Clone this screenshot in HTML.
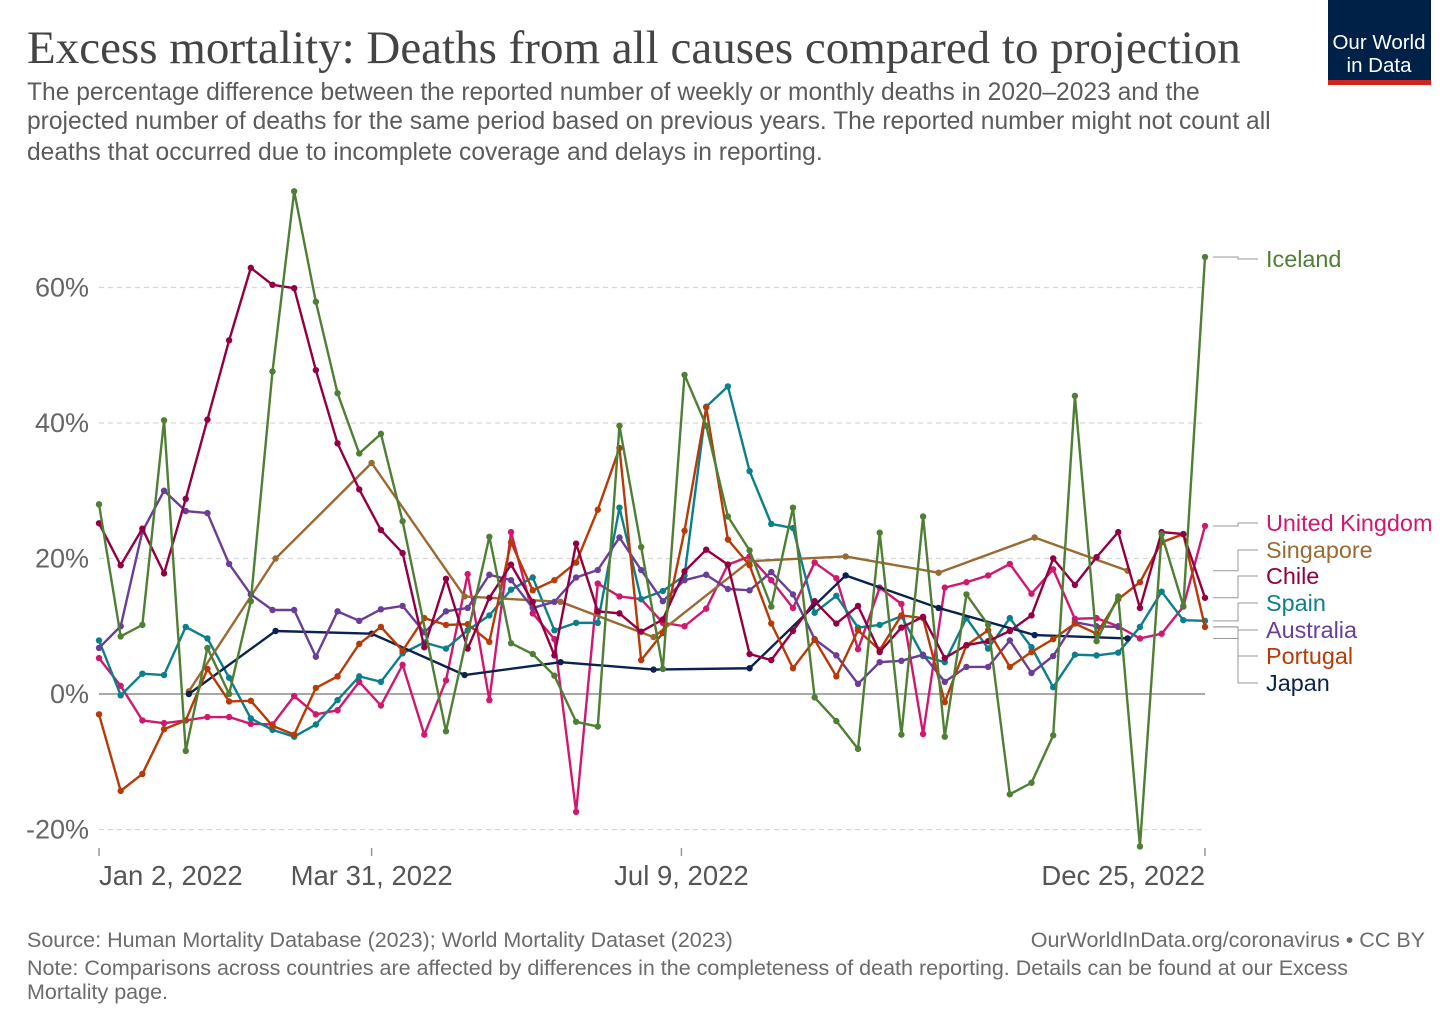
<!DOCTYPE html>
<html><head><meta charset="utf-8">
<style>
body{margin:0;background:#fff;width:1456px;height:1028px;overflow:hidden;font-family:"Liberation Sans",sans-serif;}
svg{position:absolute;left:0;top:0}
</style></head>
<body>
<svg id="chart" width="1456" height="1028">
<text x="27" y="63" font-family="Liberation Serif, serif" font-size="47" fill="#444">Excess mortality: Deaths from all causes compared to projection</text>
<g font-size="24.6" fill="#5b5b5b">
<text x="27" y="100">The percentage difference between the reported number of weekly or monthly deaths in 2020–2023 and the</text>
<text x="27" y="129">projected number of deaths for the same period based on previous years. The reported number might not count all</text>
<text x="27" y="160">deaths that occurred due to incomplete coverage and delays in reporting.</text>
</g>
<g>
<rect x="1328" y="0" width="103" height="80" fill="#002147"/>
<rect x="1328" y="80" width="103" height="5" fill="#ce261e"/>
<text x="1379" y="49" text-anchor="middle" font-size="20.5" fill="#fff">Our World</text>
<text x="1379" y="72" text-anchor="middle" font-size="20.5" fill="#fff">in Data</text>
</g>
<g id="grid"></g>
<g id="series"></g>
<g id="labels"></g>
<g font-size="21.5" fill="#6b6b6b">
<text x="27" y="947">Source: Human Mortality Database (2023); World Mortality Dataset (2023)</text>
<text x="1425" y="947" text-anchor="end">OurWorldInData.org/coronavirus • CC BY</text>
<text x="27" y="975">Note: Comparisons across countries are affected by differences in the completeness of death reporting. Details can be found at our Excess</text>
<text x="27" y="999">Mortality page.</text>
</g>
</svg>
<script>
const yTicks=[-20,0,20,40,60];
const xTickDays=[0,88,188,357];
const xTickLabels=["Jan 2, 2022","Mar 31, 2022","Jul 9, 2022","Dec 25, 2022"];
const monthDays=[29,57,88,118,149,179,210,241,271,302,332];
const iceland=[28,8.5,10.2,40.4,-8.4,6.8,0,13.7,47.6,74.2,57.9,44.4,35.5,38.4,25.5,null,-5.5,null,23.2,7.5,5.9,2.7,-4.1,-4.8,39.6,21.7,3.7,47.1,39.6,26.2,21.2,12.9,27.5,-0.5,-4,-8.1,23.8,-6,26.2,-6.3,14.7,10.2,-14.8,-13.1,-6.1,44,7.8,14.4,-22.5,23.6,13,64.5];
const chile=[25.2,19,24.4,17.8,28.8,40.5,52.2,62.9,60.4,59.9,47.8,37,30.2,24.2,20.8,6.9,17,6.7,14.2,19.1,13.6,5.7,22.2,12.2,11.9,9.2,11,18.1,21.3,19.1,5.9,5,9.3,13.7,10.4,13,6.2,9.8,11.4,5.3,7.2,7.8,9.3,11.6,20,16.1,20.2,23.9,12.7,23.9,23.6,14.2];
const uk=[5.3,1.2,-3.9,-4.3,-3.9,-3.4,-3.4,-4.4,-4.5,-0.3,-3,-2.4,1.8,-1.7,4.3,-6,2,17.7,-0.9,23.9,11.9,8.1,-17.4,16.3,14.4,14,10.5,10,12.6,19.1,20.3,16.8,12.7,19.4,17.1,6.6,15.7,13.3,-5.9,15.7,16.5,17.5,19.2,14.8,18.4,11.1,11.2,10,8.2,8.9,12.9,24.8];
const spain=[7.9,-0.2,3,2.8,9.9,8.2,2.4,-3.6,-5.3,-6.3,-4.5,-0.9,2.6,1.8,6,7.6,6.7,9.4,11.6,15.4,17.2,9.4,10.5,10.5,27.5,14,15.2,17.5,42.4,45.4,32.9,25.1,24.5,12,14.5,9.8,10.2,11.5,5.6,4.7,11.2,6.7,11.2,6.9,1,5.8,5.7,6.1,9.9,15.1,10.9,10.8];
const australia=[6.8,10,24,30,27,26.7,19.2,14.7,12.4,12.4,5.5,12.2,10.8,12.5,13,9.1,12.2,12.7,17.6,16.8,12.7,13.6,17.2,18.3,23.1,18.3,13.7,16.8,17.6,15.5,15.3,18,14.7,8.1,5.7,1.5,4.7,4.9,5.8,1.8,4,4,7.9,3.1,5.6,10.6,10,9.9,null,null,null,null];
const portugal=[-3,-14.3,-11.8,-5.2,-3.9,3.7,-1.1,-1,-4.7,-6,0.9,2.6,7.4,9.9,6.4,11.2,10.2,10.3,7.7,22.4,15.3,16.8,19.4,27.2,36.3,5,9,24.1,42.3,22.8,19,10.4,3.8,8,2.6,9.4,6.5,11.6,11.2,-1.2,7.2,9.4,4,6.2,8.1,10.4,8.9,14,16.5,22.4,23.6,9.9];
const singapore=[0.4,20,34.1,14.4,13.6,8.4,19.6,20.3,17.9,23.1,18.2];
const japan=[0,9.3,8.9,2.8,4.7,3.6,3.8,17.5,12.7,8.7,8.2];
const labelY=[259,523,550,576,603,630,656,683];

const NS="http://www.w3.org/2000/svg";
const X=d=>99+d*(1106/357);
const Y=v=>694-v*6.775;
function mk(tag,attrs,parent){const e=document.createElementNS(NS,tag);for(const k in attrs)e.setAttribute(k,attrs[k]);parent.appendChild(e);return e;}
const grid=document.getElementById('grid');
yTicks.forEach(t=>{
  const l=mk('line',{x1:99,x2:1205,y1:Y(t),y2:Y(t),stroke:t===0?'#8c8c8c':'#d6d6d6','stroke-width':t===0?1.5:1.2,'stroke-dasharray':t===0?'':'5,4'},grid);
  
  
  const tx=mk('text',{x:89,y:Y(t)+9,'text-anchor':'end','font-size':27,fill:'#666'},grid);
  tx.textContent=t+'%';
  
  
});
xTickDays.forEach((d,i)=>{
  const l=mk('line',{x1:X(d),x2:X(d),y1:848,y2:856,stroke:'#999','stroke-width':1.5},grid);
  
  
  const anchor=i===0?'start':(i===3?'end':'middle');
  const tx=mk('text',{x:X(d),y:885,'text-anchor':anchor,'font-size':27.5,fill:'#555'},grid);
  tx.textContent=xTickLabels[i];
  
  
});
const weekly=i=>i*7;
const series=[
 {name:'Iceland',vals:iceland,days:iceland.map((_,i)=>weekly(i)),color:'#4f7f34'},
 {name:'United Kingdom',vals:uk,days:uk.map((_,i)=>weekly(i)),color:'#d0186e'},
 {name:'Singapore',vals:singapore,days:monthDays,color:'#9a6a33'},
 {name:'Chile',vals:chile,days:chile.map((_,i)=>weekly(i)),color:'#930042'},
 {name:'Spain',vals:spain,days:spain.map((_,i)=>weekly(i)),color:'#0b7f8c'},
 {name:'Australia',vals:australia,days:australia.map((_,i)=>weekly(i)),color:'#6a3d96'},
 {name:'Portugal',vals:portugal,days:portugal.map((_,i)=>weekly(i)),color:'#b83a06'},
 {name:'Japan',vals:japan,days:monthDays,color:'#0a2250'}
];
const sg=document.getElementById('series');
const lg=document.getElementById('labels');
const drawOrder=[1,4,2,7,5,6,3,0];
drawOrder.forEach(si=>{
  const s=series[si];
  const g=mk('g',{},sg);
  
  
  const pts=[];
  s.vals.forEach((v,i)=>{if(v!==null)pts.push([X(s.days[i]),Y(v)]);});
  const pl=mk('polyline',{points:pts.map(p=>p.join(',')).join(' '),fill:'none',stroke:s.color,'stroke-width':2.4,'stroke-linejoin':'round'},g);
  
  
  pts.forEach(p=>{
    const c=mk('circle',{cx:p[0],cy:p[1],r:3.2,fill:s.color},g);
    
    
  });
});
series.forEach((s,si)=>{
  let last=null;
  s.vals.forEach((v,i)=>{if(v!==null)last=[X(s.days[i]),Y(v)];});
  const ly=labelY[si];
  const p=mk('path',{d:`M${1213} ${last[1]} H1238 V${ly} H1258`,fill:'none',stroke:'#999','stroke-width':1},lg);
  
  
  const t=mk('text',{x:1266,y:ly+8,'font-size':23.4,fill:s.color},lg);
  t.textContent=s.name;
  
  
});
</script>
</body></html>
